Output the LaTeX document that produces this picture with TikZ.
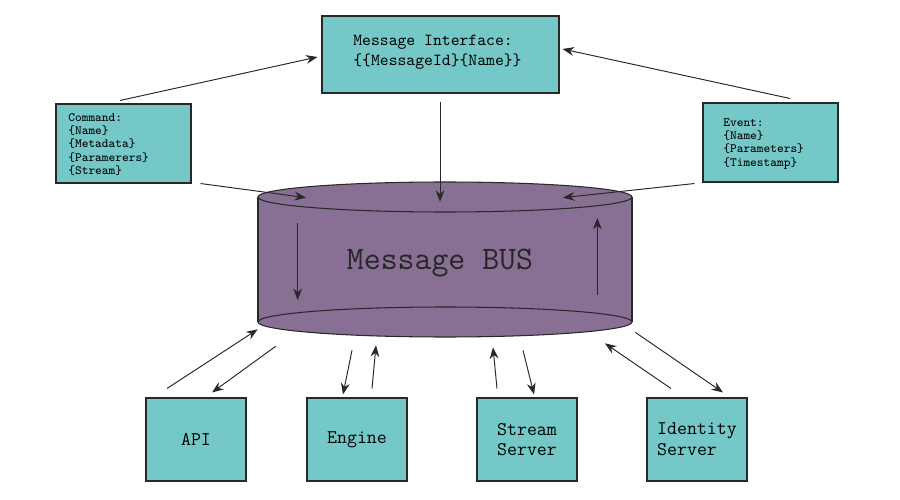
\documentclass[tikz,border=0pt]{standalone}
\usepackage{fontspec}
\usepackage{tikz}
\usetikzlibrary{
    positioning,
    arrows.meta,
    calc
}
\definecolor{BoxTeal}{RGB}{116,200,199}
\definecolor{BusPurple}{RGB}{135,112,148}
\definecolor{EdgeGray}{RGB}{40,40,40}

\begin{document}
\begin{tikzpicture}[
            x=0.02cm, y=-0.02cm,
            font=\ttfamily,
            msgbox/.style={draw=EdgeGray, fill=BoxTeal, line width=0.6pt, inner sep=0pt},
            svcbox/.style={msgbox, minimum width=2cm, minimum height=1.66cm, align=left,
                font={\fontsize{11}{11.8}\selectfont\ttfamily}},
            msgtext/.style={anchor=north west, inner sep=0pt, align=left,
                font={\fontsize{7.2}{7.6}\selectfont\ttfamily}},
            flow/.style={draw=EdgeGray, line width=0.55pt, -{Stealth[length=6.5pt,width=5pt]}},
        ]
          \useasboundingbox (0,0) rectangle (900,500);

          % Message bus cylinder
          \fill[BusPurple] (258,197) rectangle (632,322);
          \draw[EdgeGray, fill=BusPurple, line width=0.6pt] (445,322) ellipse [x radius=187, y radius=15];
          \draw[EdgeGray, fill=BusPurple, line width=0.6pt] (445,197) ellipse [x radius=187, y radius=15];
          \draw[EdgeGray, line width=0.6pt] (258,197) -- (258,322) (632,197) -- (632,322);
          \node[minimum width=7.48cm, minimum height=2.5cm, inner sep=0pt] (bus) at (445,259.5) {};
          \node[font={\fontsize{18.7}{21}\selectfont\ttfamily}, text=black!85] (bustext) at (440,263) {Message BUS};

          % Message boxes
          \node[msgbox, minimum width=4.74cm, minimum height=1.54cm] (iface) at (440.5,54.5) {};
          \node[msgtext, font={\fontsize{9.6}{11}\selectfont\ttfamily}] (ifacetext) at (353,35)
            {Message Interface:\\{\{}{\{}MessageId{\}}{\{}Name{\}}{\}}};
          \node[msgbox, minimum width=2.7cm, minimum height=1.58cm] (command) at (123.5,143.5) {};
          \node[msgtext] (commandtext) at (68,113)
            {Command:\\{\{}Name{\}}\\{\{}Metadata{\}}\\{\{}Paramerers{\}}\\{\{}Stream{\}}};
          \node[msgbox, minimum width=2.7cm, minimum height=1.58cm] (event) at (770.5,142.5) {};
          \node[msgtext] (eventtext) at (723,118)
            {Event:\\{\{}Name{\}}\\{\{}Parameters{\}}\\{\{}Timestamp{\}}};

          % Services
          \node[svcbox] (api) at (196,439.5) {API};
          \node[svcbox] (engine) at (357,439.5) {Engine};
          \node[svcbox] (stream) at (527,439.5) {Stream\\Server};
          \node[svcbox] (identity) at (697,439.5) {Identity\\Server};

          % Top arrows
          \draw[flow] ($(command.north)+(-3.5,-3)$) -- ($(iface.west)+(-4,2.5)$);
          \draw[flow] ($(event.north)+(19.5,-4)$) -- ($(iface.east)+(3,-5.5)$);
          \draw[flow] ($(command.south east)+(9,0)$) -- ($(bus.north)+(-139,1)$);
          \draw[flow] ($(iface.south)+(-0.5,8)$) -- ($(bus.north)+(-5,5)$);
          \draw[flow] ($(event.south west)+(-8,1)$) -- ($(bus.north)+(118,1)$);

          % Inside the bus
          \draw[flow] ($(bus.west)+(40,-36.5)$) -- ($(bus.west)+(40,40.5)$);
          \draw[flow] ($(bus.east)+(-35,35.5)$) -- ($(bus.east)+(-35,-41.5)$);

          % Bottom arrows
          \draw[flow] ($(api.north)+(-29,-9)$) -- ($(bus.south west)+(0,7)$);
          \draw[flow] ($(bus.south west)+(18,24)$) -- ($(api.north)+(16,-5)$);
          \draw[flow] ($(bus.south)+(-93,28)$) -- ($(engine.north)+(-14,-3)$);
          \draw[flow] ($(engine.north)+(15,-9)$) -- ($(bus.south)+(-69,23)$);
          \draw[flow] ($(stream.north)+(-30,-9)$) -- ($(bus.south)+(48,25)$);
          \draw[flow] ($(bus.south)+(78,28)$) -- ($(stream.north)+(7,-3)$);
          \draw[flow] ($(identity.north)+(-26,-9)$) -- ($(bus.south)+(160,21)$);
          \draw[flow] ($(bus.south east)+(3,10)$) -- ($(identity.north)+(26,-5)$);
        \end{tikzpicture}
\end{document}
